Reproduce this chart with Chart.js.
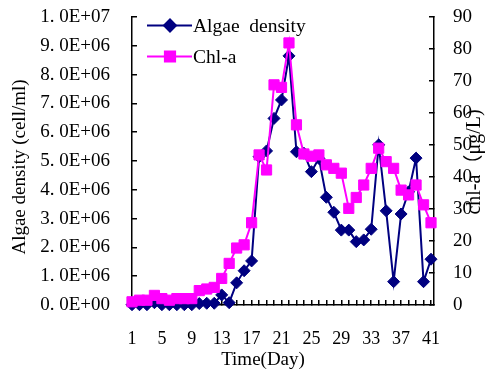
<!DOCTYPE html>
<html>
<head>
<meta charset="utf-8">
<script src="https://cdn.jsdelivr.net/npm/chart.js@4.4.0/dist/chart.umd.min.js"></script>
<style>
  html, body { margin: 0; padding: 0; background: #fff; }
</style>
</head>
<body>
<canvas id="algaeChart" width="485" height="374"></canvas>
<script>
const days = [1, 2, 3, 4, 5, 6, 7, 8, 9, 10, 11, 12, 13, 14, 15, 16, 17, 18, 19, 20, 21,
  22, 23, 24, 25, 26, 27, 28, 29, 30, 31, 32, 33, 34, 35, 36, 37, 38, 39, 40, 41];
const dayTickLabels = [1, 5, 9, 13, 17, 21, 25, 29, 33, 37, 41];

// cells/ml
const algaeDensity = [1e4, 1e4, 1e4, 8e4, 1e4, 1e4, 1e4, 1e4, 1e4, 5e4, 6e4, 6e4, 3.5e5, 8e4,
  7.7e5, 1.19e6, 1.53e6, 5.15e6, 5.35e6, 6.48e6, 7.12e6, 8.65e6, 5.32e6, 5.27e6, 4.63e6,
  5.09e6, 3.74e6, 3.22e6, 2.6e6, 2.6e6, 2.2e6, 2.26e6, 2.63e6, 5.56e6, 3.27e6, 8.1e5,
  3.16e6, 3.93e6, 5.1e6, 8.1e5, 1.59e6];

// μg/L
const chlA = [1, 1.5, 1.5, 3, 2, 1.5, 2, 2, 2, 4.5, 5, 5.5, 8.3, 13, 17.8, 18.8, 25.7, 46.9,
  42.2, 68.8, 68, 81.9, 56.3, 47.2, 46.5, 46.9, 43.8, 42.7, 41.2, 30.2, 33.6, 37.5, 42.7,
  49, 44.8, 42.7, 35.9, 34.4, 37.5, 31.3, 25.7];

const SERIF = "'Liberation Serif', 'Times New Roman', 'Noto Sans CJK SC', serif";

// "3. 0E+06" style labels, like the spreadsheet the figure came from
function sciLabel(v) {
  if (v === 0) return '0. 0E+00';
  const exp = Math.floor(Math.log10(v) + 1e-9);
  const mant = v / Math.pow(10, exp);
  return mant.toFixed(1).replace('.', '. ') + 'E+' + String(exp).padStart(2, '0');
}

const inwardTicks = { drawOnChartArea: false, tickLength: -5, color: '#000', lineWidth: 1.5 };
const axisLine = { color: '#000', width: 1.5 };

// fixed side widths; the big label padding must not push the plot down
function fitSide(width) {
  return (s) => {
    s.width = width;
    s.paddingTop = 0;
    s.paddingBottom = 0;
  };
}

// Axis titles and the in-plot legend (line + marker samples).
const frameText = {
  id: 'frameText',
  afterDraw(chart) {
    const { ctx, chartArea } = chart;
    ctx.save();
    ctx.fillStyle = '#000';
    ctx.textBaseline = 'middle';

    ctx.font = '19px ' + SERIF;
    ctx.textAlign = 'center';
    ctx.fillText('Time(Day)', chartArea.left + 131, chartArea.bottom + 55);

    ctx.save();
    ctx.translate(20.5, chartArea.top + 150);
    ctx.rotate(-Math.PI / 2);
    ctx.fillText('Algae density (cell/ml)', 0, 0);
    ctx.restore();

    ctx.save();
    ctx.font = '20px ' + SERIF;
    ctx.translate(475, chartArea.top + 145);
    ctx.rotate(-Math.PI / 2);
    ctx.fillText('chl-a（μg/L)', 0, 0);
    ctx.restore();

    // legend
    const rows = [25.5, 56.5];
    chart.data.datasets.forEach((ds, i) => {
      const y = rows[i];
      ctx.strokeStyle = ds.borderColor;
      ctx.lineWidth = ds.borderWidth;
      ctx.beginPath();
      ctx.moveTo(147, y);
      ctx.lineTo(192, y);
      ctx.stroke();
      ctx.fillStyle = ds.backgroundColor;
      Chart.helpers.drawPoint(ctx, {
        pointStyle: ds.pointStyle, radius: ds.pointRadius, borderWidth: 1, rotation: 0
      }, 170, y);
      ctx.fillStyle = '#000';
      ctx.font = '19.5px ' + SERIF;
      ctx.textAlign = 'left';
      ctx.fillText(ds.label, 193, y + 1);
    });
    ctx.restore();
  }
};

new Chart(document.getElementById('algaeChart').getContext('2d'), {
  type: 'line',
  data: {
    datasets: [
      {
        label: 'Algae  density',
        data: days.map((d, i) => ({ x: d, y: algaeDensity[i] })),
        yAxisID: 'yDensity',
        borderColor: '#000080',
        backgroundColor: '#000080',
        borderWidth: 2,
        pointStyle: 'rectRot',
        pointRadius: 6,
        pointBorderWidth: 1,
        tension: 0,
        clip: false,
        order: 1,
      },
      {
        label: 'Chl-a',
        data: days.map((d, i) => ({ x: d, y: chlA[i] })),
        yAxisID: 'yChl',
        borderColor: '#FF00FF',
        backgroundColor: '#FF00FF',
        borderWidth: 2,
        pointStyle: 'rect',
        pointRadius: 7.2,
        pointBorderWidth: 1,
        tension: 0,
        clip: false,
        order: 0,
      },
    ],
  },
  options: {
    responsive: false,
    animation: false,
    layout: { padding: { top: 17 } },
    plugins: { legend: { display: false }, tooltip: { enabled: false } },
    scales: {
      x: {
        type: 'linear',
        min: 1,
        max: 41.4,
        afterFit: (s) => { s.height = 69; },
        ticks: {
          stepSize: 1,
          autoSkip: false,
          includeBounds: false,
          maxRotation: 0,
          padding: 28,
          color: '#000',
          font: { family: SERIF, size: 18 },
          callback: (v) => (dayTickLabels.includes(v) ? String(v) : ''),
        },
        grid: inwardTicks,
        border: axisLine,
      },
      yDensity: {
        position: 'left',
        min: 0,
        max: 1e7,
        afterFit: fitSide(132),
        ticks: {
          stepSize: 1e6,
          padding: 27,
          color: '#000',
          font: { family: SERIF, size: 19 },
          callback: sciLabel,
        },
        grid: inwardTicks,
        border: axisLine,
      },
      yChl: {
        position: 'right',
        min: 0,
        max: 90,
        afterFit: fitSide(51),
        ticks: {
          stepSize: 10,
          padding: 24,
          color: '#000',
          font: { family: SERIF, size: 19 },
        },
        grid: inwardTicks,
        border: axisLine,
      },
    },
  },
  plugins: [frameText],
});
</script>
</body>
</html>
